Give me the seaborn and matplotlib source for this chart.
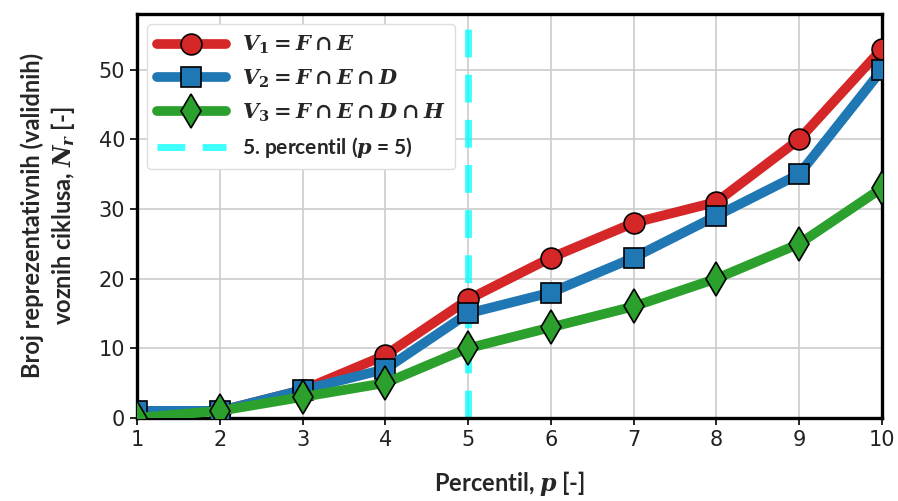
import numpy as np
import matplotlib
matplotlib.use("Agg")
import matplotlib.pyplot as plt
import seaborn as sns
import pandas as pd

fsize = 15

percentil = [1, 2, 3, 4, 5, 6, 7, 8, 9, 10]
v1 = [1, 1, 4, 9, 17, 23, 28, 31, 40, 53]
v2 = [1, 1, 4, 7, 15, 18, 23, 29, 35, 50]
v3 = [0, 1, 3, 5, 10, 13, 16, 20, 25, 33]

labels = [r'$V_1 = F \cap E$', r'$V_2 = F \cap E \cap D$', r'$V_3 = F \cap E \cap D \cap H$']
colors = ['#d62728', '#1f77b4', '#2ca02c']
markers = ['o', 's', 'd']

sns.set_style("ticks")
plt.rcParams['font.family'] = ['Lato', 'DejaVu Sans']
plt.rcParams['mathtext.fontset'] = 'custom'
plt.rcParams['mathtext.it'] = 'DejaVu Serif:italic:bold'
plt.rcParams['mathtext.rm'] = 'DejaVu Serif:bold'
plt.rcParams['mathtext.bf'] = 'DejaVu Serif:bold'

fig = plt.figure(figsize=(8.98, 5.01), dpi=100)
ax = fig.add_axes([0.1526, 0.166, 0.8295, 0.806])

df = pd.DataFrame({'p': percentil, 'V1': v1, 'V2': v2, 'V3': v3})
for i, col in enumerate(['V1', 'V2', 'V3']):
    sns.lineplot(data=df, x='p', y=col, ax=ax, color=colors[i], lw=7,
                 marker=markers[i], markersize=15 if i < 2 else 17,
                 markeredgecolor='black', markeredgewidth=1.2,
                 label=labels[i], zorder=3)

ax.axvline(5, color='cyan', alpha=0.75, lw=5, ls=(0, (4, 2.5)),
           label=r'5. percentil ($p$ = 5)', zorder=2)

ax.set_xlim(1, 10)
ax.set_ylim(0, 58)
ax.set_xticks(range(1, 11))
ax.set_yticks(range(0, 51, 10))
ax.grid(True, color='#cccccc', lw=1.2)
ax.set_axisbelow(True)
for s in ax.spines.values():
    s.set_linewidth(2.4)
    s.set_color('black')
ax.tick_params(labelsize=fsize, length=5, width=1.2, colors='black')
for t in ax.get_xticklabels() + ax.get_yticklabels():
    t.set_fontfamily('DejaVu Sans')
    t.set_color('#222222')

ax.set_xlabel(r'Percentil, $p$ [-]', fontsize=17, fontweight='bold', labelpad=14)
ax.set_ylabel('Broj reprezentativnih (validnih)\nvoznih ciklusa, $N_r$ [-]',
              fontsize=17, fontweight='bold', labelpad=16)

leg = ax.legend(loc='upper left', handlelength=3.3,
                prop={'weight': 'bold', 'size': 15}, framealpha=1,
                borderpad=0.45, labelspacing=0.55)
leg.get_frame().set_edgecolor('#dddddd')

plt.savefig('out.png', dpi=100)
